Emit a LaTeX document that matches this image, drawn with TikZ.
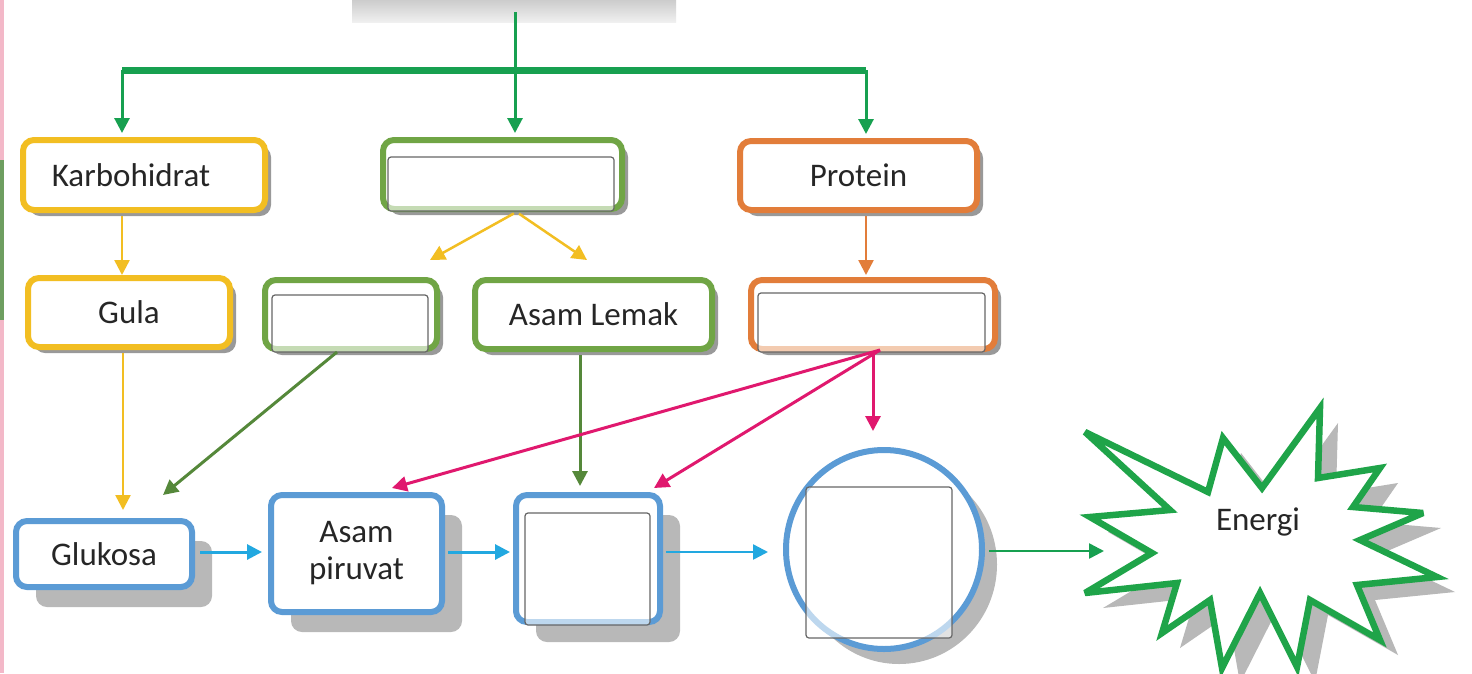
\documentclass[tikz,border=0pt]{standalone}
\usepackage{fontspec}
\setmainfont{Carlito}
\usetikzlibrary{arrows.meta,shapes.geometric,shadows,calc}

\definecolor{cYel}{HTML}{F2BE22}
\definecolor{cGrn}{HTML}{70A545}
\definecolor{cOrg}{HTML}{E27D3A}
\definecolor{cBlu}{HTML}{5B9BD5}
\definecolor{cTop}{HTML}{17A050}
\definecolor{cPnk}{HTML}{E0186E}
\definecolor{cCya}{HTML}{22A8E0}
\definecolor{cDgr}{HTML}{55883A}
\definecolor{cStar}{HTML}{1FA449}
\definecolor{cTxt}{HTML}{262626}
\definecolor{cStripP}{HTML}{F3B8C8}
\definecolor{cStripG}{HTML}{6E9E60}

\def\starpath{(1085,432) -- (1208,492) -- (1223,438) -- (1262,488) -- (1320,408) -- (1318,478) -- (1380,468) -- (1353,507) -- (1423,513) -- (1360,540) -- (1437,577) -- (1357,585) -- (1380,640) -- (1310,600) -- (1297,667) -- (1260,593) -- (1222,668) -- (1210,600) -- (1162,633) -- (1177,583) -- (1085,593) -- (1152,553) -- (1090,517) -- (1170,510) -- cycle}

\begin{document}
\begin{tikzpicture}[x=1pt,y=-1pt,
  box/.style={draw, rectangle, rounded corners=11pt, line width=6pt, fill=white,
    inner sep=0pt, text=cTxt, font=\fontsize{33}{37}\selectfont, align=center},
  sh/.style={drop shadow={shadow xshift=6pt, shadow yshift=-6pt, fill=black!50, opacity=.8}},
  bigsh/.style={drop shadow={shadow xshift=20pt, shadow yshift=-20pt, fill=black!28, opacity=1}},
  innerbox/.style={draw=black!60, line width=1.2pt, rounded corners=3pt, fill=white,
    fill opacity=.6, rectangle, inner sep=0pt},
  con/.style={line width=3pt, -{Triangle[length=15pt,width=15pt]}},
]
\useasboundingbox (0,0) rectangle (1472,673);
\fill[white] (0,0) rectangle (1472,673);

% left edge strips
\fill[cStripP] (0,0) rectangle (4,160);
\fill[cStripG] (0,160) rectangle (4,320);
\fill[cStripP] (0,320) rectangle (4,673);

% top (cut off) source box
\node[rectangle, minimum width=324, minimum height=22, inner sep=0pt,
  top color=black!20, bottom color=black!6] (src) at (514,11) {};

% first row
\node[box, sh, draw=cYel, minimum width=242, minimum height=70] (karbo) at (144,175) {Karbohidrat\hspace*{26pt}};
\node[box, sh, draw=cGrn, minimum width=239, minimum height=69] (mid) at (502.5,174.5) {};
\node[innerbox, minimum width=226, minimum height=54] (midin) at (501,184) {};
\node[box, sh, draw=cOrg, minimum width=237, minimum height=69] (prot) at (858.5,175.5) {Protein};

% second row
\node[box, sh, draw=cYel, minimum width=202, minimum height=69] (gula) at (129,312.5) {Gula};
\node[box, sh, draw=cGrn, minimum width=172, minimum height=69] (gl) at (351,314.5) {};
\node[innerbox, minimum width=156, minimum height=57] (glin) at (350,323.5) {};
\node[box, sh, draw=cGrn, minimum width=237, minimum height=69] (lemak) at (593.5,314.5) {Asam Lemak};
\node[box, sh, draw=cOrg, minimum width=244, minimum height=69] (or2) at (873,314.5) {};
\node[innerbox, minimum width=227, minimum height=59] (or2in) at (871.5,322.5) {};

% bottom row
\node[box, bigsh, draw=cBlu, minimum width=176, minimum height=66] (glu) at (104,554) {Glukosa};
\node[box, bigsh, draw=cBlu, minimum width=171, minimum height=117] (pir) at (356.5,553.5) {Asam\\piruvat};
\node[box, bigsh, draw=cBlu, minimum width=144, minimum height=127] (b3) at (588,558.5) {};
\node[innerbox, minimum width=125, minimum height=112] (b3in) at (587.5,569) {};
\node[ellipse, draw=cBlu, line width=6pt, fill=white, inner sep=0pt,
  minimum width=196, minimum height=199,
  drop shadow={shadow xshift=15pt, shadow yshift=-15pt, fill=black!28, opacity=1}] (circ) at (884,549.5) {};
\node[innerbox, minimum width=146, minimum height=151] (circin) at (879,562.5) {};

% star
\fill[black!28] [shift={(18,15)}] \starpath;
\draw[cStar, line width=6.5pt, fill=white, line join=miter, miter limit=4] \starpath;
\node[text=cTxt, font=\fontsize{33}{37}\selectfont] (en) at (1258,522) {Energi};

% coordinates for free ends
\coordinate (t0) at (515,12);
\coordinate (hl) at (122,70);
\coordinate (hr) at (866,70);
\coordinate (y1) at (430,260);
\coordinate (y2) at (587,260);
\coordinate (gq) at (163,495);
\coordinate (pk) at (880,350);
\coordinate (pk1) at (392,488);
\coordinate (pk2) at (654,488);
\coordinate (eg) at (1104,551);

% top connectors
\draw[cTop, line width=7pt] (hl) -- (hr);
\draw[con, cTop, shorten >=4pt] (t0) -- (t0 |- mid.north);
\draw[con, cTop, shorten >=4pt] (hl) -- (hl |- karbo.north);
\draw[con, cTop, shorten >=4pt] (hr) -- (hr |- prot.north);

% first to second row
\draw[con, cYel, line width=2.5pt, shorten <=3pt] (karbo.south -| hl) -- (gula.north -| hl);
\draw[con, cYel, line width=2.5pt, shorten <=3pt] ([xshift=14pt]mid.south) -- (y1);
\draw[con, cYel, line width=2.5pt, shorten <=3pt] ([xshift=14pt]mid.south) -- (y2);
\draw[con, cOrg, line width=2.5pt, shorten <=3pt, shorten >=2pt] (prot.south -| hr) -- (or2.north -| hr);

% second to bottom row
\draw[con, cYel, line width=2.5pt, shorten <=3pt, shorten >=8pt] (gula.south -| 123,0) -- (glu.north -| 123,0);
\draw[con, cDgr] ([xshift=-14pt]gl.south) -- (gq);
\draw[con, cDgr, shorten <=3pt, shorten >=6pt] (lemak.south -| 580,0) -- (b3.north -| 580,0);
\draw[con, cPnk] (pk) -- (pk1);
\draw[con, cPnk] (pk) -- (pk2);
\draw[con, cPnk, shorten <=2pt, shorten >=16pt] (or2.south) -- (circ.north -| or2.south);

% horizontal flow
\draw[con, cCya, shorten <=5pt, shorten >=6pt] (glu.east |- 0,552) -- (pir.west |- 0,552);
\draw[con, cCya, shorten <=3pt, shorten >=3pt] (pir.east |- 0,552) -- (b3.west |- 0,552);
\draw[con, cCya, line width=2.5pt, shorten <=3pt, shorten >=15pt] (b3.east |- 0,552) -- (circ.west |- 0,552);
\draw[con, cTop, line width=2.5pt, shorten <=4pt] (circ.east |- 0,551) -- (eg);
\end{tikzpicture}
\end{document}
